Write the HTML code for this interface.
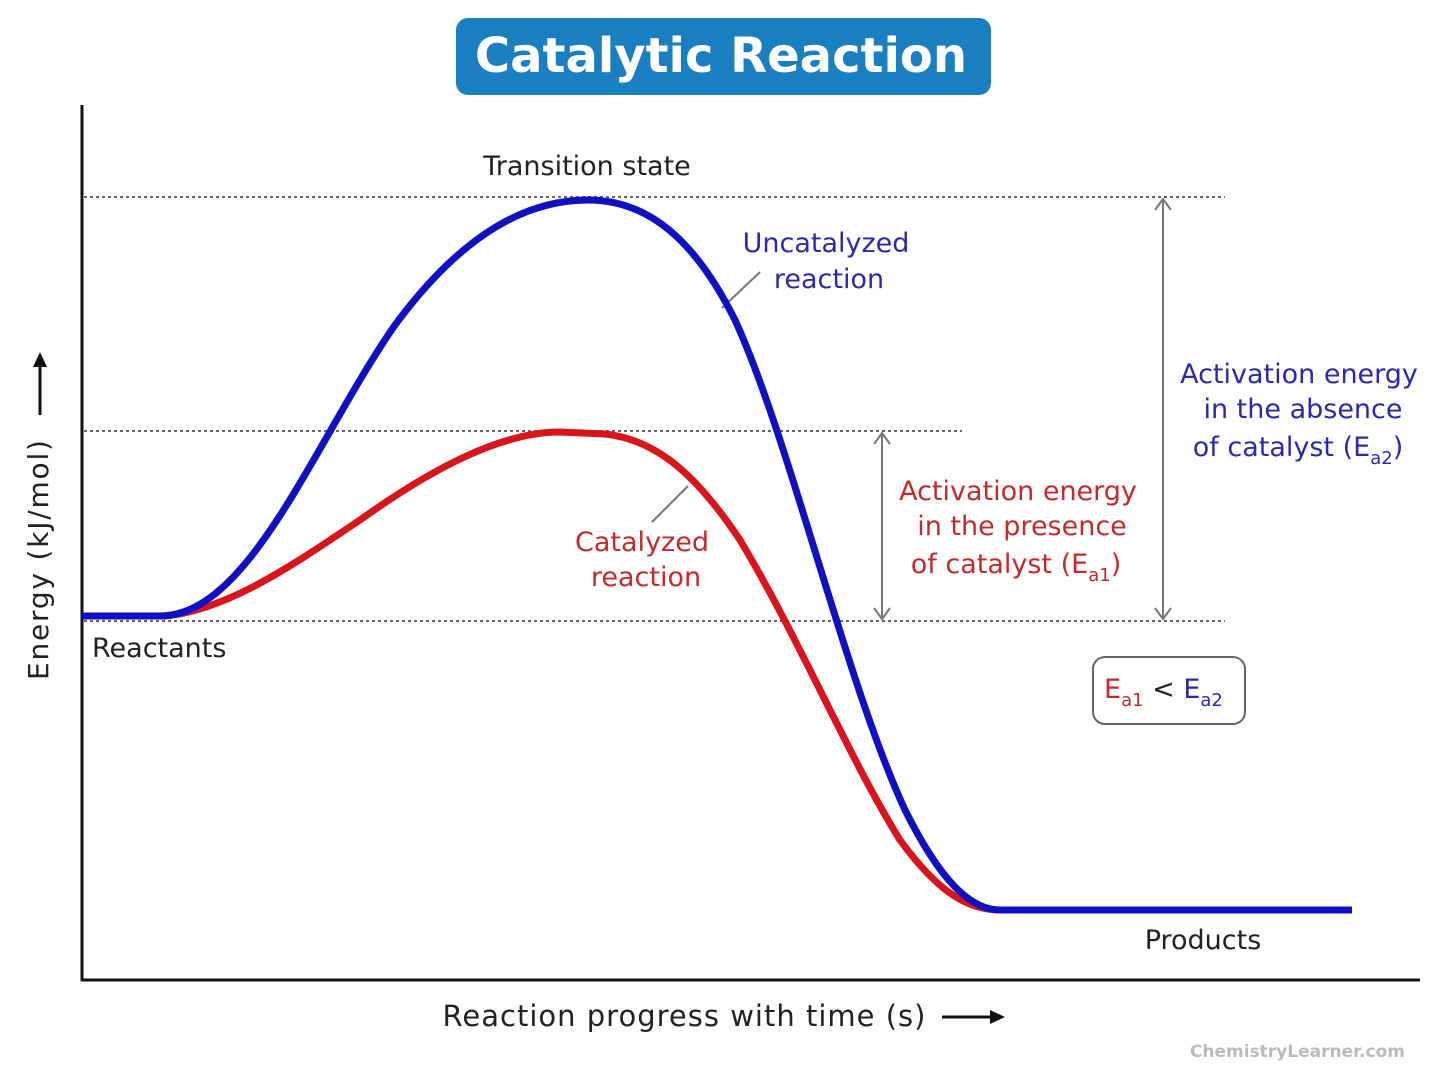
<!DOCTYPE html>
<html><head><meta charset="utf-8"><style>
html,body{margin:0;padding:0;background:#fff;}
svg text{font-family:"DejaVu Sans","Liberation Sans",sans-serif;}
</style></head><body>
<svg width="1440" height="1074" viewBox="0 0 1440 1074" xmlns="http://www.w3.org/2000/svg">
<rect x="456" y="18" width="535" height="77" rx="12" fill="#1a7fc0"/>
<text x="721" y="72" text-anchor="middle" font-size="48" font-weight="bold" fill="#fff">Catalytic Reaction</text>
<g stroke="#111" stroke-width="3"><line x1="82" y1="105" x2="82" y2="981"/><line x1="81" y1="980" x2="1420" y2="980"/></g>
<g stroke="#666" stroke-width="2" stroke-dasharray="3,3">
<line x1="84" y1="197" x2="1225" y2="197"/><line x1="84" y1="431" x2="962" y2="431"/><line x1="84" y1="621" x2="1225" y2="621"/></g>
<g stroke="#777" stroke-width="2" fill="none">
<line x1="1163" y1="199" x2="1163" y2="619"/><polyline points="1155,210 1163,199 1171,210"/><polyline points="1155,608 1163,619 1171,608"/>
<line x1="882" y1="433" x2="882" y2="619"/><polyline points="874,444 882,433 890,444"/><polyline points="874,608 882,619 890,608"/>
<line x1="722" y1="308" x2="760" y2="272"/><line x1="652" y1="522" x2="688" y2="486"/></g>
<path d="M82,616 L165,616 C230,610 300,560 360,520 C430,470 500,432 560,432 L605,434 C660,440 700,480 740,540 C800,640 850,760 900,840 C940,895 970,910 1000,910" stroke="#d8141c" stroke-width="7" fill="none"/>
<path d="M82,616 L160,616 C250,616 315,440 395,325 C465,230 530,200 588,200 C655,200 700,250 735,320 C790,440 845,680 905,810 C940,880 970,910 1000,910 L1352,910" stroke="#1010c0" stroke-width="7" fill="none"/>
<g font-size="27" fill="#222">
<text x="587" y="175" text-anchor="middle">Transition state</text>
<text x="92" y="657">Reactants</text>
<text x="1203" y="949" text-anchor="middle">Products</text>
<text x="684" y="1026" text-anchor="middle" font-size="29" textLength="483">Reaction progress with time (s)</text>
<text transform="translate(48,560) rotate(-90)" text-anchor="middle" font-size="28" textLength="240">Energy (kJ/mol)</text>
</g>
<g stroke="#111" stroke-width="3" fill="#111"><line x1="942" y1="1017" x2="995" y2="1017"/><polygon points="1005,1017 990,1010 990,1024" stroke="none"/>
<line x1="40" y1="415" x2="40" y2="362"/><polygon points="40,352 33,367 47,367" stroke="none"/></g>
<g font-size="27" fill="#2a2aa8" text-anchor="middle">
<text x="826" y="252">Uncatalyzed</text><text x="829" y="288">reaction</text>
<text x="1299" y="383">Activation energy</text><text x="1303" y="418">in the absence</text><text x="1298" y="456">of catalyst (E<tspan font-size="18" dy="8">a2</tspan><tspan dy="-8">)</tspan></text>
</g>
<g font-size="27" fill="#c42a2a" text-anchor="middle">
<text x="642" y="551">Catalyzed</text><text x="646" y="586">reaction</text>
<text x="1018" y="500">Activation energy</text><text x="1022" y="535">in the presence</text><text x="1016" y="573">of catalyst (E<tspan font-size="18" dy="8">a1</tspan><tspan dy="-8">)</tspan></text>
</g>
<rect x="1093" y="657" width="152" height="67" rx="12" fill="#fff" stroke="#666" stroke-width="2"/>
<text x="1104" y="698" font-size="27"><tspan fill="#c42a2a">E</tspan><tspan fill="#c42a2a" font-size="18" dy="8">a1</tspan><tspan fill="#222" dy="-8"> &lt; </tspan><tspan fill="#2a2aa8">E</tspan><tspan fill="#2a2aa8" font-size="18" dy="8">a2</tspan></text>
<text x="1405" y="1057" text-anchor="end" font-size="17" font-weight="bold" fill="#bbb">ChemistryLearner.com</text>
</svg>
</body></html>
